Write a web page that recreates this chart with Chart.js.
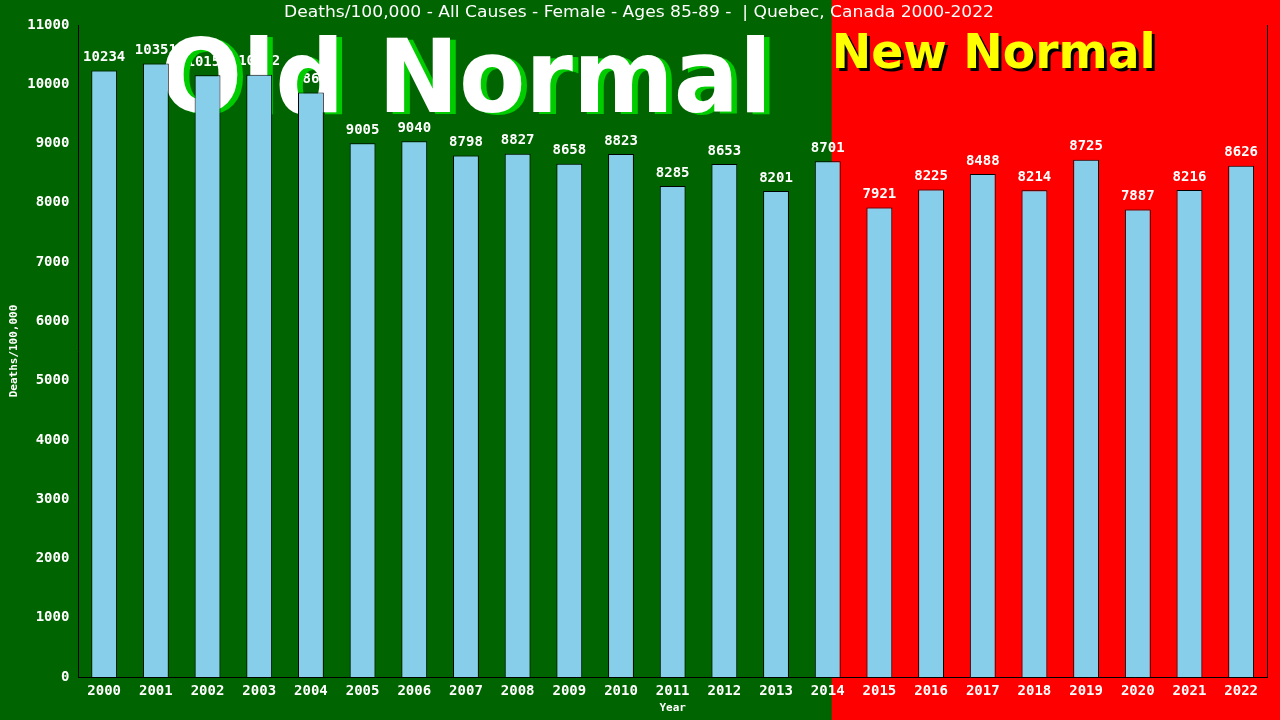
<!DOCTYPE html>
<html><head><meta charset="utf-8">
<script src="https://cdn.jsdelivr.net/npm/chart.js@4.4.0/dist/chart.umd.min.js"></script>
<style>html,body{margin:0;padding:0;background:#006400;}#wrap{width:1280px;height:720px;}</style>
</head><body><div id="wrap"><canvas id="c" width="1280" height="720"></canvas></div>
<script>
const years = ["2000","2001","2002","2003","2004","2005","2006","2007","2008","2009","2010","2011","2012","2013","2014","2015","2016","2017","2018","2019","2020","2021","2022"];
const deaths = [10234,10351,10151,10162,9862,9005,9040,8798,8827,8658,8823,8285,8653,8201,8701,7921,8225,8488,8214,8725,7887,8216,8626];
const yTicks = [0,1000,2000,3000,4000,5000,6000,7000,8000,9000,10000,11000];
const titleText = "Deaths/100,000 - All Causes - Female - Ages 85-89 -  | Quebec, Canada 2000-2022";
const newNormalStartIndex = 14;

const MONO = '"DejaVu Sans Mono", monospace';

const bgPlugin = {
  id:'bg',
  beforeDraw(chart){
    const ctx = chart.ctx, xs = chart.scales.x;
    const xr = xs.getPixelForValue(newNormalStartIndex) + 4;
    ctx.save();
    ctx.fillStyle = '#006400';
    ctx.fillRect(0,0,chart.width,chart.height);
    ctx.fillStyle = '#ff0000';
    ctx.fillRect(xr,0,chart.width-xr,chart.height);
    // title
    ctx.fillStyle = '#ffffff';
    ctx.font = '16px "DejaVu Sans Condensed", "Liberation Sans Narrow", "DejaVu Sans", sans-serif';
    ctx.textBaseline = 'middle';
    const w = ctx.measureText(titleText).width;
    const target = 710;
    ctx.translate(284, 13);
    ctx.scale(target / w, 1);
    ctx.textAlign = 'left';
    ctx.fillText(titleText, 0, 0);
    ctx.restore();
  },
  beforeDatasetsDraw(chart){
    const ctx = chart.ctx, xs = chart.scales.x, ys = chart.scales.y;
    ctx.save();
    // value labels
    ctx.font = 'bold 14px ' + MONO;
    ctx.fillStyle = '#ffffff';
    ctx.textAlign = 'center';
    ctx.textBaseline = 'bottom';
    deaths.forEach((v,i)=>{
      ctx.fillText(String(v), xs.getPixelForValue(i), ys.getPixelForValue(v) - 6);
    });
    // Old Normal
    ctx.font = 'bold 102px "DejaVu Sans", sans-serif';
    ctx.textAlign = 'left';
    ctx.textBaseline = 'alphabetic';
    let s = 'Old Normal';
    let w = ctx.measureText(s).width;
    ctx.save();
    ctx.translate(160, 112);
    ctx.scale(612 / w, 1.0);
    ctx.fillStyle = '#00cc00';
    ctx.fillText(s, 6, 2);
    ctx.fillStyle = '#ffffff';
    ctx.fillText(s, 0, 0);
    ctx.restore();
    // New Normal
    const xr = xs.getPixelForValue(newNormalStartIndex) + 4;
    ctx.font = 'bold 48px "DejaVu Sans", sans-serif';
    s = 'New Normal';
    w = ctx.measureText(s).width;
    ctx.save();
    ctx.translate(xr, 68);
    ctx.scale(324 / w, 1);
    ctx.fillStyle = '#000000';
    ctx.fillText(s, 3, 3);
    ctx.fillStyle = '#ffff00';
    ctx.fillText(s, 0, 0);
    ctx.restore();
    ctx.restore();
  },
  afterDraw(chart){
    const ctx = chart.ctx, ca = chart.chartArea;
    ctx.save();
    ctx.strokeStyle = '#000';
    ctx.lineWidth = 1;
    ctx.beginPath();
    ctx.moveTo(Math.round(ca.right)+0.5, ca.top);
    ctx.lineTo(Math.round(ca.right)+0.5, ca.bottom);
    ctx.stroke();
    ctx.restore();
  }
};

new Chart(document.getElementById('c'), {
  type:'bar',
  data:{
    labels: years,
    datasets:[{
      data: deaths,
      backgroundColor:'#87ceeb',
      borderColor:'#000000',
      borderWidth:1,
      categoryPercentage:1.0,
      barPercentage:0.5
    }]
  },
  options:{
    responsive:false,
    animation:false,
    devicePixelRatio:1,
    layout:{padding:{top:25,right:13,left:8,bottom:4}},
    plugins:{legend:{display:false},title:{display:false},tooltip:{enabled:false}},
    scales:{
      x:{
        grid:{display:false, drawTicks:true, tickLength:4, color:'#000'},
        border:{display:true,color:'#000'},
        ticks:{color:'#fff', font:{family:MONO, size:14, weight:'bold'}, padding:2, maxRotation:0, autoSkip:false},
        title:{display:true, text:'Year', color:'#fff', font:{family:MONO, size:11, weight:'bold'}, padding:{top:0,bottom:1}}
      },
      y:{
        min:0, max:11000,
        afterBuildTicks(scale){ scale.ticks = yTicks.map(v=>({value:v})); },
        grid:{display:false, drawOnChartArea:false, drawTicks:true, tickLength:5, color:'#000'},
        border:{display:true,color:'#000'},
        ticks:{color:'#fff', font:{family:MONO, size:14, weight:'bold'}, padding:4, callback:(v)=>String(v)},
        title:{display:true, text:'Deaths/100,000', color:'#fff', font:{family:MONO, size:11, weight:'bold'}, padding:{top:0,bottom:2}}
      }
    }
  },
  plugins:[bgPlugin]
});
</script></body></html>
